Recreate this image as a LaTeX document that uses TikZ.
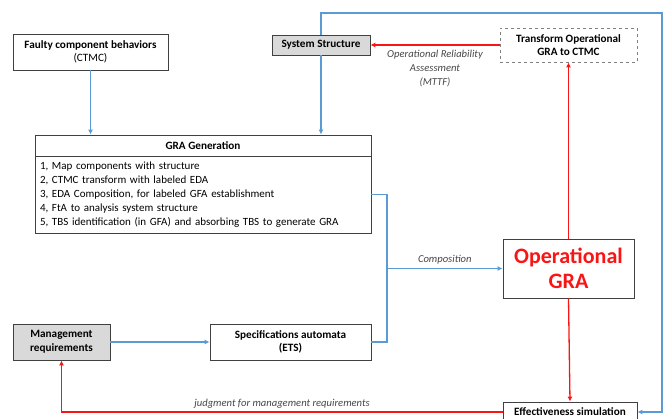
\documentclass[tikz,border=0pt]{standalone}
\usepackage{fontspec}
\setmainfont{Carlito}
\usepackage{xcolor}
\usetikzlibrary{positioning,arrows.meta,calc}
\definecolor{flowblue}{RGB}{91,155,213}
\definecolor{flowred}{RGB}{250,20,20}
\definecolor{boxgray}{RGB}{217,217,217}
\definecolor{edgegray}{RGB}{64,64,64}
\definecolor{labgray}{RGB}{70,70,70}
\tikzset{
    box/.style={rectangle,draw=edgegray,fill=white,line width=0.8pt,align=center,inner sep=2pt,font=\fontsize{11.2}{13.5}\selectfont},
    graybox/.style={box,fill=boxgray},
    dashbox/.style={box,draw=gray,dashed},
    barr/.style={-{Latex[length=5pt,width=5pt]},draw=flowblue,line width=1.1pt},
    bline/.style={draw=flowblue,line width=1.1pt},
    rarr/.style={-{Latex[length=5pt,width=5pt]},draw=flowred,line width=1.3pt},
    rline/.style={draw=flowred,line width=1.3pt},
    lab/.style={font=\fontsize{10.6}{14}\selectfont\itshape,text=labgray,align=center},
}
\begin{document}
\begin{tikzpicture}[x=1pt,y=-1pt]
\useasboundingbox (0,0) rectangle (667,419);
% boxes
\node[box,minimum width=155pt,minimum height=36pt] (faulty) at (90.5,52) {\textbf{Faulty component behaviors}\\(CTMC)};
\node[graybox,minimum width=98pt,minimum height=20pt] (sysstruct) at (321,45) {\textbf{System Structure}};
\node[dashbox,minimum width=137pt,minimum height=34pt] (transform) at (568.5,45) {\textbf{Transform Operational}\\\textbf{GRA to CTMC}};
\node[box,minimum width=336pt,minimum height=21pt] (gragen) at (203,145.5) {\textbf{GRA Generation}};
\node[box,minimum width=336pt,minimum height=77pt,text width=326pt,align=left,font=\fontsize{11}{14}\selectfont] (gralist) at (203,194.5)
  {1, Map components with structure\\2, CTMC transform with labeled EDA\\3, EDA Composition, for labeled GFA establishment\\4, FtA to analysis system structure\\5, TBS identification (in GFA) and absorbing TBS to generate GRA};
\node[box,minimum width=131pt,minimum height=59pt,text=flowred,font=\fontsize{22}{25}\selectfont\bfseries] (opgra) at (568.5,268.5) {Operational\\GRA};
\node[graybox,minimum width=97pt,minimum height=36pt] (mgmt) at (61.5,342) {\textbf{Management}\\\textbf{requirements}};
\node[box,minimum width=161pt,minimum height=36pt] (specs) at (290.5,342) {\textbf{Specifications automata}\\\textbf{(ETS)}};
\node[box,minimum width=134pt,minimum height=20pt] (effsim) at (570,412) {\textbf{Effectiveness simulation}};
\coordinate (loopc) at (662,13);
\coordinate (jn) at (387,268.5);
% blue flows
\draw[barr] (faulty.south) -- (faulty.south |- gragen.north);
\draw[barr] (sysstruct.south) -- (sysstruct.south |- gragen.north);
\draw[barr] (sysstruct.north) |- (loopc) |- (effsim.east);
\draw[bline] (gralist.east) -| (jn);
\draw[bline] (specs.east) -| (jn);
\draw[barr] (jn) -- node[lab,above] {Composition} (opgra.west);
\draw[barr] (mgmt.east) -- (specs.west);
% red flows
\draw[rarr] (transform.west) -- node[lab,below=1pt] {Operational Reliability\\Assessment\\(MTTF)} (sysstruct.east);
\draw[rarr] (opgra.north) -- (transform.south);
\draw[rarr] (opgra.south) -- (effsim.north);
\draw[rarr] (effsim.west) -| node[lab,above,pos=0.25] {judgment for management requirements} (mgmt.south);
\end{tikzpicture}
\end{document}
